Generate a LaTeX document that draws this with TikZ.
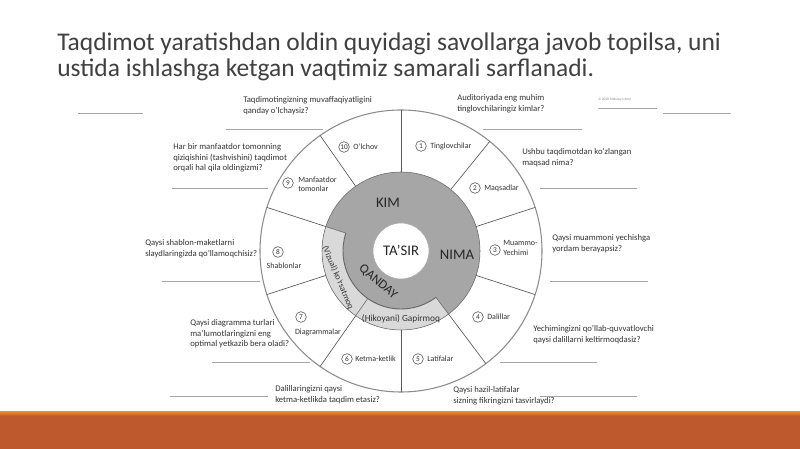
\documentclass[tikz,border=0pt]{standalone}
\usepackage{fontspec}
\usetikzlibrary{calc}
\setmainfont{Carlito}
\definecolor{ringgray}{HTML}{A6A6A6}
\definecolor{bandgray}{HTML}{D9D9D9}
\definecolor{seggray}{HTML}{595959}
\definecolor{qtext}{HTML}{333333}
\definecolor{titlegray}{HTML}{404040}
\definecolor{linegray}{HTML}{A6A6A6}
\definecolor{barorange}{HTML}{BD592C}
\definecolor{barlight}{HTML}{E3862E}
\begin{document}
\begin{tikzpicture}[x=0.75pt,y=0.75pt,
  qbox/.style={anchor=north west, inner sep=0pt, align=left, font=\fontsize{6.5}{7.9}\selectfont, text=qtext},
  uline/.style={draw=linegray, line width=0.7pt},
  segline/.style={draw=seggray, line width=0.5pt},
  lbl/.style={inner sep=0pt, align=left, font=\fontsize{6}{7}\selectfont, text=qtext},
  numc/.style={circle, draw=seggray, line width=0.45pt, minimum size=8pt, inner sep=0pt, font=\fontsize{5.5}{5.5}\selectfont, text=qtext},
  bigl/.style={inner sep=0pt, font=\fontsize{11}{12}\selectfont, text=black!85},
  ttl/.style={anchor=base west, inner sep=0pt, font=\fontsize{19.1}{22}\selectfont, text=titlegray}
]
\useasboundingbox (0,0) rectangle (800,449);
\fill[white] (0,0) rectangle (800,449);
% bottom bar
\fill[barorange] (0,0) rectangle (800,33);
\shade[top color=barlight, bottom color=barorange] (0,33) rectangle (800,37);
% title
\node[ttl] (title1) at (57,398) {Taqdimot yaratishdan oldin quyidagi savollarga javob topilsa, uni};
\node[ttl] (title2) at (57,372) {ustida ishlashga ketgan vaqtimiz samarali sarflanadi.};
% wheel
\coordinate (C) at (401,198);
\begin{scope}[shift={(C)}]
  \draw[draw=gray!90, line width=0.8pt, fill=white] (0,0) circle (141);
  \fill[ringgray] (0,0) circle (79);
  \fill[bandgray] (162:58) arc[start angle=162, end angle=307, radius=58] -- (307:79) arc[start angle=307, end angle=162, radius=79] -- cycle;
  \draw[draw=gray!80!black, line width=0.4pt] (0,0) circle (79);
  \draw[draw=black!60, line width=0.7pt] (162:58) arc[start angle=162, end angle=307, radius=58];
  \draw[draw=black!55, line width=0.5pt] (162:58) -- (162:79);
  \draw[draw=black!55, line width=0.5pt] (235:58) -- (235:79);
  \draw[draw=black!55, line width=0.5pt] (307:58) -- (307:79);
  \draw[draw=black!35, line width=0.4pt] (51:28) -- (51:79);
  \draw[fill=white, draw=gray!70, line width=0.4pt] (0,0) circle (28);
  \foreach \a in {90,51,18,-18,-53,-90,-125,-162,162,125}
    \draw[segline] (\a:79) -- (\a:141);
\end{scope}
% centre labels
\node[bigl] (tasir) at (401,199) {TA'SIR};
\node[bigl] (kim) at (388,246) {KIM};
\node[bigl] (nima) at (457,194) {NIMA};
\node[bigl, rotate=-40, font=\fontsize{9.8}{11}\selectfont] (qanday) at (378,167) {QANDAY};
\node[inner sep=0pt, rotate=-67, font=\fontsize{6.5}{8}\selectfont, text=qtext] (vizual) at ($(C)+(203:68.5)$) {(Vizual) ko'rsatmoq};
\node[inner sep=0pt, font=\fontsize{7}{8}\selectfont, text=qtext] (hikoya) at (401,130) {(Hikoyani) Gapirmoq};
% segment labels
\node[numc] (n1) at (421,303) {1}; \node[lbl, anchor=west] (l1) at (430,303) {Tinglovchilar};
\node[numc] (n2) at (475,261) {2}; \node[lbl, anchor=west] (l2) at (484,261) {Maqsadlar};
\node[numc] (n3) at (495,199) {3}; \node[lbl, anchor=west] (l3) at (503,201) {Muammo-\\Yechimi};
\node[numc] (n4) at (478,132) {4}; \node[lbl, anchor=west] (l4) at (487,132) {Dalillar};
\node[numc] (n5) at (418,90) {5}; \node[lbl, anchor=west] (l5) at (427,90) {Latifalar};
\node[numc] (n6) at (347,90) {6}; \node[lbl, anchor=west] (l6) at (355,90) {Ketma-ketlik};
\node[numc] (n7) at (301,132) {7}; \node[lbl] (l7) at (318,117) {Diagrammalar};
\node[numc] (n8) at (278,197) {8}; \node[lbl] (l8) at (284,183) {Shablonlar};
\node[numc] (n9) at (288,266) {9}; \node[lbl, anchor=west] (l9) at (298,265) {Manfaatdor\\tomonlar};
\node[numc] (n10) at (344,302) {10}; \node[lbl, anchor=west] (l10) at (353,302) {O'lchov};
% questions
\node[qbox] (q10) at (243,352.5) {Taqdimotingizning muvaffaqiyatligini\\qanday o'lchaysiz?};
\node[qbox] (q9) at (173,305.5) {Har bir manfaatdor tomonning\\qiziqishini (tashvishini) taqdimot\\orqali hal qila oldingizmi?};
\node[qbox] (q1) at (457,354.5) {Auditoriyada eng muhim\\tinglovchilaringiz kimlar?};
\node[qbox] (q2) at (522,300.5) {Ushbu taqdimotdan ko'zlangan\\maqsad nima?};
\node[qbox] (q3) at (552,214.5) {Qaysi muammoni yechishga\\yordam berayapsiz?};
\node[qbox] (q4) at (533,123.5) {Yechimingizni qo'llab-quvvatlovchi\\qaysi dalillarni keltirmoqdasiz?};
\node[qbox] (q5) at (453,62.5) {Qaysi hazil-latifalar\\sizning fikringizni tasvirlaydi?};
\node[qbox] (q6) at (275,63.5) {Dalillaringizni qaysi\\ketma-ketlikda taqdim etasiz?};
\node[qbox] (q7) at (190,129.5) {Qaysi diagramma turlari\\ma'lumotlaringizni eng\\optimal yetkazib bera oladi?};
\node[qbox] (q8) at (145,209.5) {Qaysi shablon-maketlarni\\slaydlaringizda qo'llamoqchisiz?};
\node[inner sep=0pt, anchor=west, font=\fontsize{2.6}{3}\selectfont, text=gray] (copy) at (598,349) {© 2020 Anthony's Amy};
% answer lines
\coordinate (u10a) at (226,320); \coordinate (u10b) at (323,320); \draw[uline] (u10a) -- (u10b);
\coordinate (u9a) at (172,261); \coordinate (u9b) at (268,261); \draw[uline] (u9a) -- (u9b);
\coordinate (u1a) at (483,320); \coordinate (u1b) at (582,320); \draw[uline] (u1a) -- (u1b);
\coordinate (u2a) at (540,261); \coordinate (u2b) at (637,261); \draw[uline] (u2a) -- (u2b);
\coordinate (u3a) at (550,168); \coordinate (u3b) at (648,168); \draw[uline] (u3a) -- (u3b);
\coordinate (u4a) at (500,87); \coordinate (u4b) at (597,87); \draw[uline] (u4a) -- (u4b);
\coordinate (u5a) at (540,53); \coordinate (u5b) at (637,53); \draw[uline] (u5a) -- (u5b);
\coordinate (u6a) at (170,53); \coordinate (u6b) at (268,53); \draw[uline] (u6a) -- (u6b);
\coordinate (u7a) at (212,87); \coordinate (u7b) at (310,87); \draw[uline] (u7a) -- (u7b);
\coordinate (u8a) at (162,168); \coordinate (u8b) at (260,168); \draw[uline] (u8a) -- (u8b);
\coordinate (exla) at (78,336); \coordinate (exlb) at (143,336); \draw[uline] (exla) -- (exlb);
\coordinate (exra) at (663,336); \coordinate (exrb) at (731,336); \draw[uline] (exra) -- (exrb);
\coordinate (cpa) at (598,341); \coordinate (cpb) at (657,341); \draw[draw=gray!70, line width=0.6pt] (cpa) -- (cpb);
\end{tikzpicture}
\end{document}
